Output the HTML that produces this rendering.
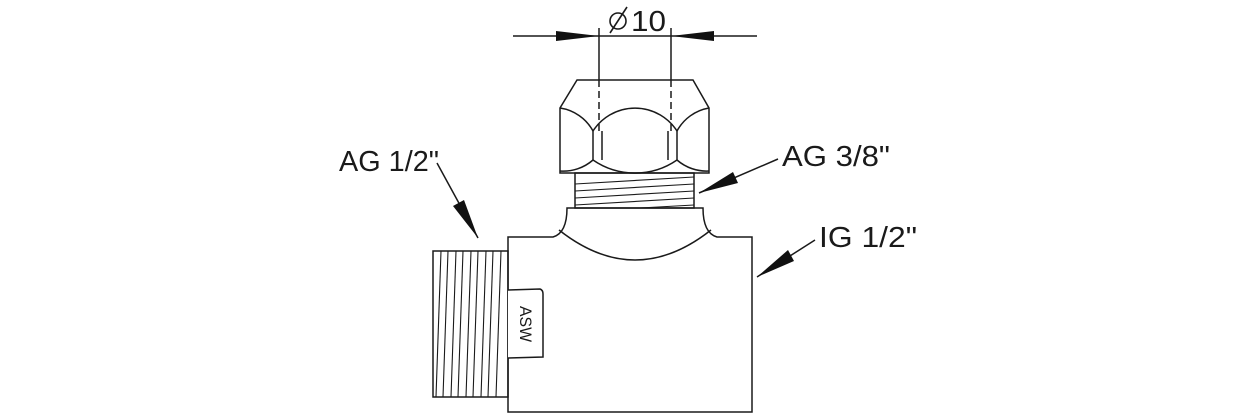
<!DOCTYPE html>
<html><head><meta charset="utf-8"><style>
html,body{margin:0;padding:0;background:#fff;}
svg{display:block;}
text{font-family:"Liberation Sans Narrow","Liberation Sans",sans-serif;fill:#1a1a1a;}
</style></head><body>
<svg width="1252" height="416" viewBox="0 0 1252 416" xmlns="http://www.w3.org/2000/svg">
<g stroke="#1a1a1a" stroke-width="1.5" fill="none">
<!-- dimension -->
<line x1="513" y1="36" x2="757" y2="36"/>
<line x1="599" y1="28" x2="599" y2="80"/>
<line x1="671" y1="28" x2="671" y2="80"/>
<line x1="599" y1="80" x2="599" y2="131" stroke-dasharray="7,4"/>
<line x1="671" y1="80" x2="671" y2="131" stroke-dasharray="7,4"/>
<!-- nut -->
<path d="M577,80 L693,80 L709,108 L709,173 L560,173 L560,108 Z"/>
<path d="M560,108 A45,45 0 0 1 593,131"/>
<path d="M593,131 A50,50 0 0 1 677,131"/>
<path d="M677,131 A45,45 0 0 1 709,108"/>
<path d="M560,171 A45,45 0 0 0 593,160"/>
<path d="M593,160 A74,74 0 0 0 677,160"/>
<path d="M677,160 A45,45 0 0 0 709,171"/>
<line x1="593" y1="131" x2="593" y2="160"/><line x1="602" y1="131" x2="602" y2="160"/>
<line x1="668" y1="131" x2="668" y2="160"/><line x1="677" y1="131" x2="677" y2="160"/>
<!-- top thread -->
<rect x="575" y="173" width="119" height="35"/>
<g stroke-width="1.1">
<line x1="575" y1="184" x2="694" y2="177"/>
<line x1="575" y1="191" x2="694" y2="184"/>
<line x1="575" y1="198" x2="694" y2="191"/>
<line x1="575" y1="205" x2="694" y2="198"/>
<line x1="640" y1="208" x2="694" y2="205"/>
</g>
<!-- collar + body -->
<path d="M508,237 L553,237 Q567,233 567,208 L703,208 Q703,233 717,237 L752,237 L752,412 L508,412 Z"/>
<path d="M559,230 Q635,290 711,230"/>
<!-- left thread -->
<rect x="433" y="251" width="75" height="146"/>
<g stroke-width="1.1">
<line x1="441" y1="251" x2="436" y2="397"/>
<line x1="448" y1="251" x2="443" y2="397"/>
<line x1="456" y1="251" x2="451" y2="397"/>
<line x1="463" y1="251" x2="458" y2="397"/>
<line x1="471" y1="251" x2="466" y2="397"/>
<line x1="478" y1="251" x2="473" y2="397"/>
<line x1="486" y1="251" x2="481" y2="397"/>
<line x1="493" y1="251" x2="488" y2="397"/>
<line x1="501" y1="251" x2="496" y2="397"/>
</g>
<!-- ASW tab -->
<path d="M508,290 L540,289 Q543,290 543,294 L543,357 L508,358" fill="#fff"/>
<!-- leaders -->
<line x1="437" y1="163" x2="478" y2="238"/>
<line x1="778" y1="159" x2="699" y2="193"/>
<line x1="815" y1="240" x2="757" y2="277"/>
</g>
<g fill="#111">
<polygon points="556,31 599,36 556,41"/>
<polygon points="714,31 671,36 714,41"/>
<polygon points="478,238 464,200 453,206"/>
<polygon points="699,193 738,183 733,172"/>
<polygon points="757,277 794,261 788,250"/>
</g>
<g stroke="#1a1a1a" stroke-width="1.6" fill="none">
<circle cx="618" cy="21" r="8"/>
<line x1="610" y1="33" x2="627" y2="7"/>
</g>
<text x="631" y="31" font-size="29" textLength="35" lengthAdjust="spacingAndGlyphs">10</text>
<text x="339" y="171" font-size="29" textLength="100" lengthAdjust="spacingAndGlyphs">AG 1/2"</text>
<text x="782" y="166" font-size="29" textLength="108" lengthAdjust="spacingAndGlyphs">AG 3/8"</text>
<text x="819" y="247" font-size="29" textLength="98" lengthAdjust="spacingAndGlyphs">IG 1/2"</text>
<text x="0" y="0" font-size="17" transform="translate(520,324) rotate(90)" text-anchor="middle" textLength="36" lengthAdjust="spacingAndGlyphs">ASW</text>
</svg>
</body></html>
